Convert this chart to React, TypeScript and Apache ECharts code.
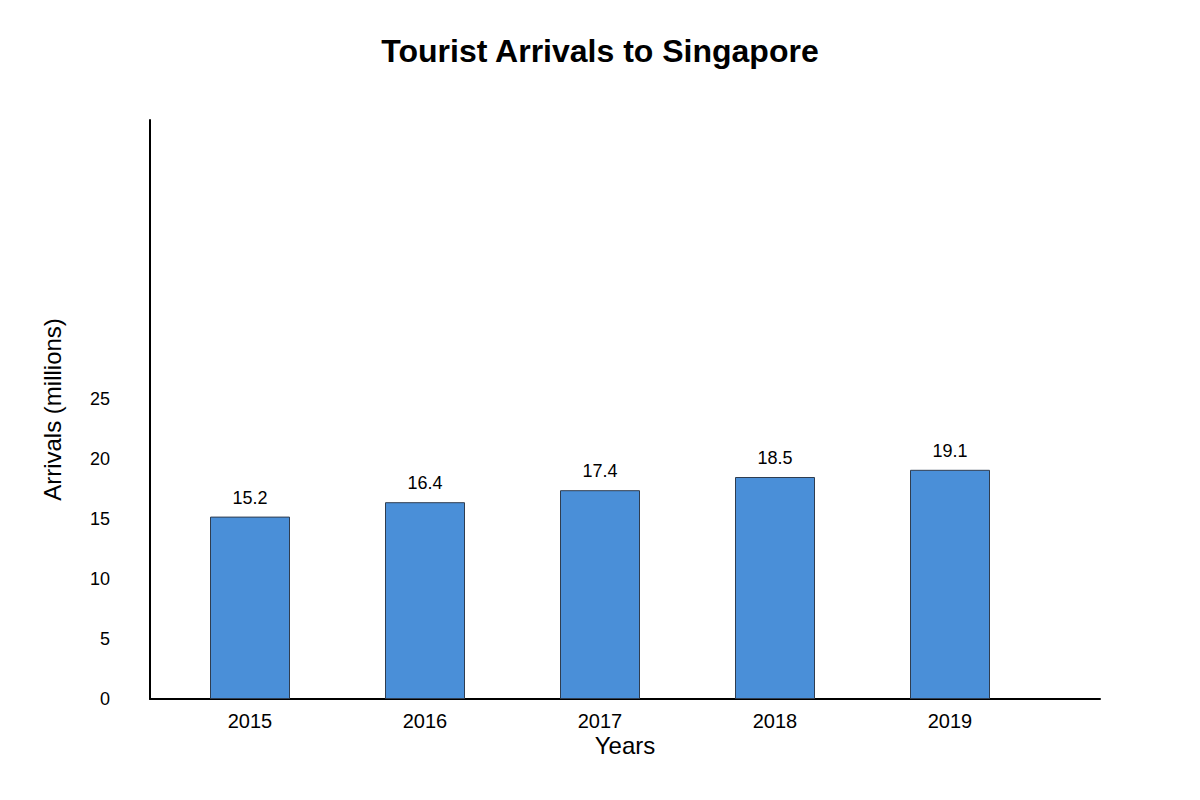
import * as echarts from "echarts";
import React, { useEffect, useRef } from "react";

const years = ["2015", "2016", "2017", "2018", "2019"];
const arrivals = [15.2, 16.4, 17.4, 18.5, 19.1];
const yTicks = [0, 5, 10, 15, 20, 25];

export default function App() {
	const $chart = useRef<HTMLDivElement>(null);

	useEffect(() => {
		const chart = echarts.init($chart.current, null, { renderer: "svg" });
		const font = "Liberation Sans, Arial, sans-serif";

		chart.setOption({
			animation: false,
			backgroundColor: "#ffffff",
			title: {
				text: "Tourist Arrivals to Singapore",
				left: "center",
				top: 30,
				textStyle: { fontFamily: font, fontSize: 32, fontWeight: "bold", color: "#000" },
			},
			grid: { left: 150, right: 100, top: 120, bottom: 101 },
			xAxis: {
				type: "value",
				// category centres sit 175px apart, first one 100px right of the axis
				min: -100 / 175,
				max: 850 / 175,
				name: "Years",
				nameLocation: "middle",
				nameGap: 34,
				nameMoveOverlap: false,
				nameTextStyle: { fontFamily: font, fontSize: 24, color: "#000" },
				splitLine: { show: false },
				axisTick: { show: false },
				axisLine: { show: true, onZero: false, lineStyle: { color: "#000", width: 2 } },
				axisLabel: {
					customValues: years.map((_, i) => i),
					formatter: (v: number) => years[Math.round(v)] ?? "",
					fontFamily: font,
					fontSize: 20,
					color: "#000",
					margin: 12,
				},
			},
			yAxis: {
				type: "value",
				min: 0,
				max: 579 / 12,
				name: "Arrivals (millions)",
				nameLocation: "middle",
				nameGap: 86,
				nameMoveOverlap: false,
				nameTextStyle: { fontFamily: font, fontSize: 24, color: "#000" },
				splitLine: { show: false },
				axisTick: { show: false },
				axisLine: { show: true, onZero: false, lineStyle: { color: "#000", width: 2 } },
				axisLabel: {
					customValues: yTicks,
					fontFamily: font,
					fontSize: 18,
					color: "#000",
					margin: 40,
				},
			},
			series: [
				{
					type: "bar",
					barWidth: 80,
					data: arrivals.map((v, i) => [i, v]),
					itemStyle: { color: "#4a8fd8", borderColor: "#2f3d50", borderWidth: 1 },
					label: {
						show: true,
						position: "top",
						distance: 10,
						formatter: (p: any) => p.value[1].toFixed(1),
						fontFamily: font,
						fontSize: 18,
						color: "#000",
					},
				},
			],
		});

		return () => chart.dispose();
	}, []);

	return <div ref={$chart} style={{ position: "fixed", left: 0, top: 0, width: 1200, height: 800 }} />;
}
